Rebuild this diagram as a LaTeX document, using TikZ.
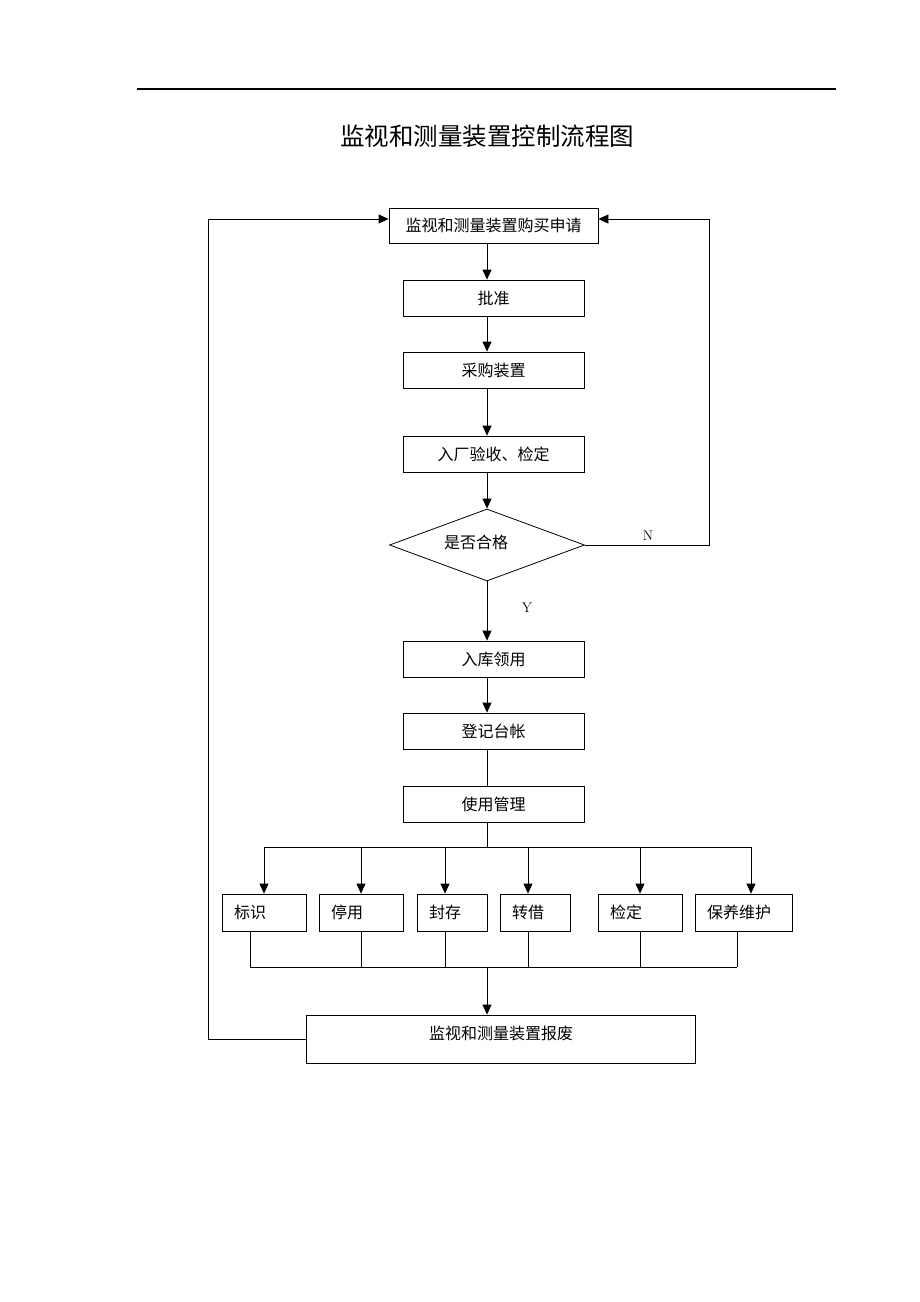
\documentclass[tikz,border=0pt]{standalone}
\usepackage{fontspec}
\newfontfamily\cjk{Noto Sans CJK SC}
\usetikzlibrary{arrows.meta,shapes.geometric,calc}
\begin{document}
\begin{tikzpicture}[x=1pt,y=-1pt,
  every node/.style={font=\cjk\fontsize{16pt}{19pt}\selectfont},
  box/.style={draw, line width=0.8pt, minimum height=36pt, minimum width=181pt, inner sep=0pt},
  smallbox/.style={draw, line width=0.8pt, minimum height=37pt, inner xsep=12pt, inner ysep=0pt, align=left},
  ln/.style={line width=0.8pt},
  arr/.style={line width=0.8pt, -{Triangle[length=10pt,width=9pt]}},
  lbl/.style={font=\fontsize{14pt}{16pt}\selectfont}]
\useasboundingbox (0,0) rectangle (920,1302);
\fill[white] (0,0) rectangle (920,1302);
% header rule and title
\coordinate (hl) at (137,89);
\coordinate (hr) at (836,89);
\draw[line width=1.3pt] (hl) -- (hr);
\node[font=\cjk\fontsize{24.5pt}{28pt}\selectfont] (title) at (487,136) {监视和测量装置控制流程图};
% spine and loop coordinates
\coordinate (sp) at (487,0);
\coordinate (rx) at (709,219);
\coordinate (lx) at (208,219);
% main boxes
\node[box, minimum width=209pt, minimum height=35pt] (b1) at (493.5,225.5) {监视和测量装置购买申请};
\node[box] (b2) at (493.5,298) {批准};
\node[box] (b3) at (493.5,370) {采购装置};
\node[box] (b4) at (493.5,454) {入厂验收、检定};
\node[draw, ln, diamond, minimum width=195pt, minimum height=72pt, inner sep=0pt] (dec) at (487,545) {};
\node (dect) at (476,542) {是否合格};
\node[box] (b5) at (493.5,659) {入库领用};
\node[box] (b6) at (493.5,731) {登记台帐};
\node[box] (use) at (493.5,804) {使用管理};
% small boxes
\node[smallbox, text width=60pt] (s1) at (264,912.5) {标识};
\node[smallbox, text width=60pt] (s2) at (361,912.5) {停用};
\node[smallbox, text width=46pt] (s3) at (452,912.5) {封存};
\node[smallbox, text width=46pt] (s4) at (535,912.5) {转借};
\node[smallbox, text width=60pt] (s5) at (640,912.5) {检定};
\node[smallbox, text width=73pt] (s6) at (743.5,912.5) {保养维护};
% scrap box
\node[draw, ln, minimum width=389pt, minimum height=48pt, inner sep=0pt] (scrap) at (500.5,1039) {};
\node (scrapt) at (501,1033) {监视和测量装置报废};
% labels
\node[lbl] (nl) at (648,536) {N};
\node[lbl] (yl) at (527,608) {Y};
% connectors main chain
\draw[arr] (b1.south -| sp) -- (b2.north -| sp);
\draw[arr] (b2.south -| sp) -- (b3.north -| sp);
\draw[arr] (b3.south -| sp) -- (b4.north -| sp);
\draw[arr] (b4.south -| sp) -- (dec.north);
\draw[arr] (dec.south) -- (b5.north -| sp);
\draw[arr] (b5.south -| sp) -- (b6.north -| sp);
\draw[ln] (b6.south -| sp) -- (use.north -| sp);
% N loop
\draw[arr] (dec.east) -| (rx) -- (b1.east |- rx);
% left loop
\draw[arr] (scrap.west) -| (lx) -- (b1.west |- lx);
% top bus
\coordinate (t1) at (264,847);
\coordinate (t2) at (361,847);
\coordinate (t3) at (445,847);
\coordinate (t4) at (528,847);
\coordinate (t5) at (640,847);
\coordinate (t6) at (751,847);
\draw[ln] (use.south -| sp) -- (sp |- t1);
\draw[ln] (t1) -- (t6);
\draw[arr] (t1) -- (s1.north -| t1);
\draw[arr] (t2) -- (s2.north -| t2);
\draw[arr] (t3) -- (s3.north -| t3);
\draw[arr] (t4) -- (s4.north -| t4);
\draw[arr] (t5) -- (s5.north -| t5);
\draw[arr] (t6) -- (s6.north -| t6);
% bottom bus
\coordinate (u1) at (250,967);
\coordinate (u2) at (361,967);
\coordinate (u3) at (445,967);
\coordinate (u4) at (528,967);
\coordinate (u5) at (640,967);
\coordinate (u6) at (737,967);
\draw[ln] (s1.south -| u1) -- (u1);
\draw[ln] (s2.south -| u2) -- (u2);
\draw[ln] (s3.south -| u3) -- (u3);
\draw[ln] (s4.south -| u4) -- (u4);
\draw[ln] (s5.south -| u5) -- (u5);
\draw[ln] (s6.south -| u6) -- (u6);
\draw[ln] (u1) -- (u6);
\draw[arr] (sp |- u1) -- (scrap.north -| sp);
\end{tikzpicture}
\end{document}
